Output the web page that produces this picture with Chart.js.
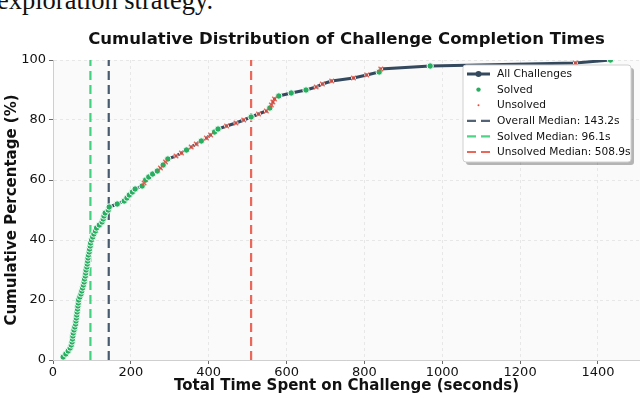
<!DOCTYPE html>
<html lang="en">
<head>
<meta charset="UTF-8">
<title>Cumulative Distribution of Challenge Completion Times</title>
<script src="https://cdn.jsdelivr.net/npm/chart.js"></script>
<style>
  body { margin: 0; background: #fff; }
  #wrap { position: relative; width: 640px; height: 398px; overflow: hidden; }
  #above { position: absolute; left: -3px; top: -15px; font: 26.5px 'Liberation Serif', serif; color: #111; white-space: nowrap; }
  canvas { position: absolute; left: 0; top: 0; }
</style>
</head>
<body>
<div id="wrap">
  <div id="above">exploration strategy.</div>
  <canvas id="cdfChart" width="640" height="398"></canvas>
</div>
<script>
// completion time of each challenge in seconds, sorted
const times = [
  26, 33, 39, 44, 47, 49, 50, 51, 52, 54,
  56, 58, 59, 60, 61, 62, 63, 64, 65, 66,
  69, 72, 74, 76, 78, 80, 81, 83, 84, 85,
  87, 88, 89, 90, 91, 93, 94, 95.6, 96.6, 99,
  102, 105, 109, 112, 119, 126, 129, 131, 134, 142,
  144.4, 165, 183, 190, 196, 204, 211, 229, 234, 238,
  246, 256, 268, 276, 283, 289, 295, 316, 330, 343,
  355, 368, 381, 394, 405, 415, 424, 446, 470, 490,
  509, 528, 548, 557, 561, 565, 569, 580, 612, 650,
  676, 692, 716, 772, 806, 838, 842, 969, 1342, 1432
];
// 1 = solved, 0 = unsolved (same order as times)
const solvedFlags = [
  1, 1, 1, 1, 1, 1, 1, 1, 1, 1,
  1, 1, 1, 1, 1, 1, 1, 1, 1, 1,
  1, 1, 1, 1, 1, 1, 1, 1, 1, 1,
  1, 1, 1, 1, 1, 1, 1, 1, 1, 1,
  1, 1, 1, 1, 1, 1, 1, 1, 1, 1,
  1, 1, 1, 1, 1, 1, 1, 1, 0, 1,
  1, 1, 1, 0, 1, 0, 1, 0, 0, 1,
  0, 0, 1, 0, 0, 1, 1, 0, 0, 0,
  1, 0, 0, 1, 0, 0, 0, 1, 1, 1,
  0, 0, 0, 0, 0, 1, 0, 1, 0, 1
];
const overallMedian = 143.2;
const solvedMedian = 96.1;
const unsolvedMedian = 508.9;
const xTicks = [0, 200, 400, 600, 800, 1000, 1200, 1400];
const yTicks = [0, 20, 40, 60, 80, 100];

const C_ALL = '#34495e', C_SOLVED = '#27ae60', C_SOLVED_MED = '#2ecc71', C_UNSOLVED = '#e74c3c';

const allPts = times.map((t, i) => ({ x: t, y: (i + 1) / times.length * 100 }));
const solvedPts = allPts.filter((p, i) => solvedFlags[i] === 1);
const unsolvedPts = allPts.filter((p, i) => solvedFlags[i] === 0);
const vline = x => [{ x: x, y: 0 }, { x: x, y: 100 }];

const legendItems = [
  { label: 'All Challenges', kind: 'line', color: C_ALL },
  { label: 'Solved', kind: 'dot', color: C_SOLVED, r: 2.2 },
  { label: 'Unsolved', kind: 'dot', color: C_UNSOLVED, r: 1 },
  { label: `Overall Median: ${overallMedian.toFixed(1)}s`, kind: 'dash', color: C_ALL },
  { label: `Solved Median: ${solvedMedian.toFixed(1)}s`, kind: 'dash', color: C_SOLVED_MED },
  { label: `Unsolved Median: ${unsolvedMedian.toFixed(1)}s`, kind: 'dash', color: C_UNSOLVED }
];

const plotBg = {
  id: 'plotBg',
  beforeDraw(chart) {
    const { ctx, chartArea: a } = chart;
    ctx.save();
    ctx.fillStyle = '#fafafa';
    ctx.fillRect(a.left, a.top, a.right - a.left, a.bottom - a.top);
    ctx.restore();
  }
};

// legend box drawn inside the plot, upper right
const boxLegend = {
  id: 'boxLegend',
  afterDraw(chart) {
    const ctx = chart.ctx;
    const bx = 463, by = 65, bw = 168, bh = 97;
    ctx.save();
    ctx.fillStyle = 'rgba(0,0,0,0.28)';
    ctx.beginPath(); ctx.roundRect(bx + 3, by + 3, bw, bh, 3); ctx.fill();
    ctx.fillStyle = '#ffffff';
    ctx.strokeStyle = '#d0d0d0';
    ctx.lineWidth = 1;
    ctx.beginPath(); ctx.roundRect(bx, by, bw, bh, 3); ctx.fill(); ctx.stroke();
    ctx.font = '10.6px "DejaVu Sans"';
    ctx.textBaseline = 'middle';
    legendItems.forEach((it, i) => {
      const y = 74 + i * 15.6;
      if (it.kind === 'line') {
        ctx.strokeStyle = it.color; ctx.lineWidth = 3; ctx.setLineDash([]);
        ctx.beginPath(); ctx.moveTo(467, y); ctx.lineTo(490, y); ctx.stroke();
        ctx.fillStyle = it.color;
        ctx.beginPath(); ctx.arc(478.5, y, 3, 0, Math.PI * 2); ctx.fill();
      } else if (it.kind === 'dot') {
        ctx.fillStyle = it.color;
        ctx.beginPath(); ctx.arc(478.5, y, it.r, 0, Math.PI * 2); ctx.fill();
      } else {
        ctx.strokeStyle = it.color; ctx.globalAlpha = 0.85; ctx.lineWidth = 2.2; ctx.setLineDash([9, 5]);
        ctx.beginPath(); ctx.moveTo(467, y); ctx.lineTo(490, y); ctx.stroke();
        ctx.setLineDash([]); ctx.globalAlpha = 1;
      }
      ctx.fillStyle = '#111';
      ctx.fillText(it.label, 497, y + 0.5);
    });
    ctx.restore();
  }
};

const medianLine = (x, color) => ({
  data: vline(x), showLine: true, borderColor: color, borderWidth: 2.2,
  borderDash: [9, 5], pointRadius: 0, fill: false
});

new Chart(document.getElementById('cdfChart'), {
  type: 'scatter',
  data: {
    datasets: [
      { label: 'Unsolved', data: unsolvedPts, pointStyle: 'crossRot', pointRadius: 3.2,
        borderColor: 'rgba(231,76,60,0.85)', borderWidth: 1.3, backgroundColor: 'rgba(231,76,60,0.85)' },
      { label: 'Solved', data: solvedPts, pointStyle: 'circle', pointRadius: 3.2,
        backgroundColor: C_SOLVED, borderColor: '#ffffff', borderWidth: 0.9 },
      { label: 'All Challenges', data: allPts, showLine: true, borderColor: C_ALL, borderWidth: 3,
        pointRadius: 2, pointBackgroundColor: C_ALL, pointBorderColor: '#ffffff', pointBorderWidth: 1 },
      medianLine(overallMedian, 'rgba(52,73,94,0.9)'),
      medianLine(solvedMedian, 'rgba(46,204,113,0.9)'),
      medianLine(unsolvedMedian, 'rgba(231,76,60,0.85)')
    ]
  },
  options: {
    responsive: false,
    animation: false,
    layout: { padding: 0, autoPadding: false },
    plugins: {
      legend: { display: false },
      tooltip: { enabled: false },
      title: {
        display: true,
        text: 'Cumulative Distribution of Challenge Completion Times',
        fullSize: false,
        color: '#111',
        font: { family: 'DejaVu Sans', size: 16.5, weight: 'bold' },
        padding: { top: 30, bottom: 10.2 }
      }
    },
    scales: {
      x: {
        type: 'linear', min: 0, max: 1508,
        afterBuildTicks: s => { s.ticks = xTicks.map(v => ({ value: v })); },
        afterFit: s => { s.height = 38; },
        ticks: { color: '#111', font: { family: 'DejaVu Sans', size: 13 }, padding: 1, maxRotation: 0,
          callback: v => String(v) },
        grid: { color: '#e2e2e2', lineWidth: 0.8, tickColor: '#444', tickLength: 4 },
        border: { display: true, color: '#cfcfcf', dash: [3, 3] },
        title: { display: true, text: 'Total Time Spent on Challenge (seconds)', color: '#111',
          font: { family: 'DejaVu Sans', size: 15, weight: 'bold' }, padding: { top: 0, bottom: 3 } }
      },
      y: {
        type: 'linear', min: 0, max: 100,
        afterBuildTicks: s => { s.ticks = yTicks.map(v => ({ value: v })); },
        afterFit: s => { s.width = 53; },
        ticks: { color: '#111', font: { family: 'DejaVu Sans', size: 13 }, padding: 3,
          callback: v => String(v) },
        grid: { color: '#e2e2e2', lineWidth: 0.8, tickColor: '#444', tickLength: 4 },
        border: { display: true, color: '#cfcfcf', dash: [3, 3] },
        title: { display: true, text: 'Cumulative Percentage (%)', color: '#111',
          font: { family: 'DejaVu Sans', size: 15, weight: 'bold' }, padding: { top: 3, bottom: 0 } }
      }
    }
  },
  plugins: [plotBg, boxLegend]
});
</script>
</body>
</html>
